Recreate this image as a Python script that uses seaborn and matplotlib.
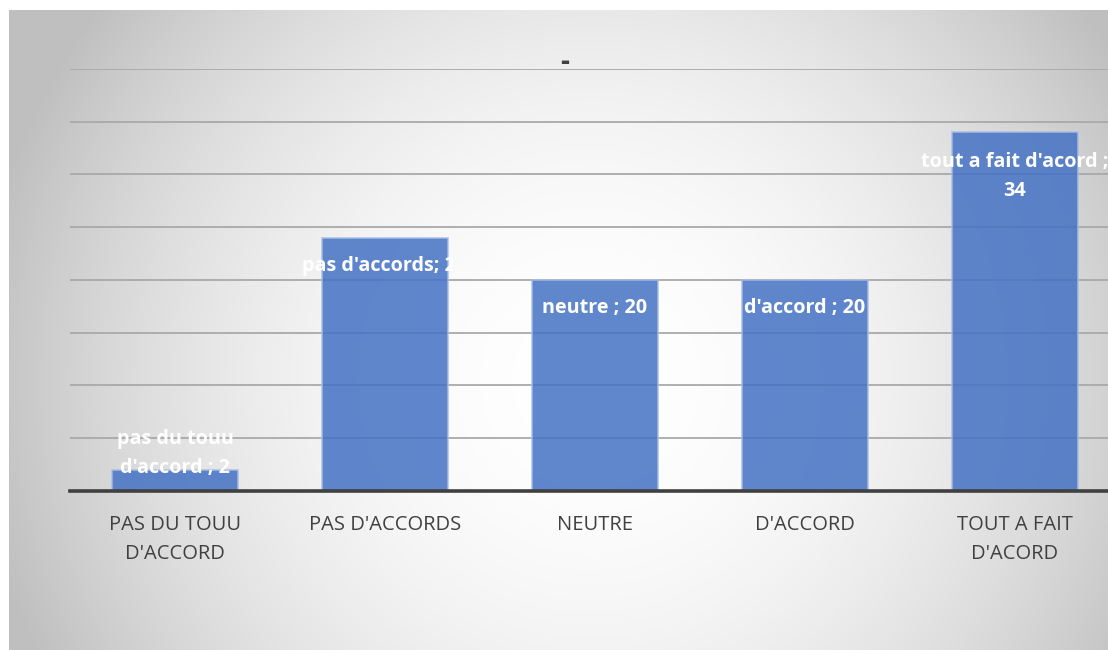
import numpy as np
import pandas as pd
import matplotlib
matplotlib.use("Agg")
import matplotlib.pyplot as plt
from matplotlib.patches import Rectangle
import seaborn as sns

# Survey answers and counts
categories = ["PAS DU TOUU\nD'ACCORD", "PAS D'ACCORDS", "NEUTRE", "D'ACCORD", "TOUT A FAIT\nD'ACORD"]
values = [2, 24, 20, 20, 34]
label_names = ["pas du touu\nd'accord ; ", "pas d'accords; ", "neutre ; ", "d'accord ; ", "tout a fait d'acord ;\n"]
title = "-"

sns.set_theme(style="white")
plt.rcParams["font.family"] = ["Open Sans", "DejaVu Sans"]

W, H = 1108, 650
fig = plt.figure(figsize=(W / 100, H / 100), dpi=100)
fig.patch.set_facecolor("white")

# radial grey-to-white background of the chart area
bg = fig.add_axes([9 / W, 0, (W - 9) / W, 640 / H], zorder=0)
gx0, gx1, gy0, gy1 = 9, 1108, 10, 650
xs = np.arange(gx0, gx1)
ys = np.arange(gy0, gy1)
XX, YY = np.meshgrid(xs, ys)
d = np.hypot(XX - 590, YY - 380)
v = 1 - 0.22 * (d / 580) ** 2
v = np.clip(v, 0.75, 1.0)
img = np.dstack([v, v, v])
bg.imshow(img, aspect="auto", extent=[0, 1, 0, 1], interpolation="bilinear")
bg.axis("off")

ax = fig.add_axes([70 / W, 159 / H, 1050 / W, 422 / H], zorder=1)
ax.patch.set_alpha(0)

df = pd.DataFrame({"cat": categories, "val": values})
sns.barplot(data=df, x="cat", y="val", color="#4472C4", width=0.6,
            saturation=1, alpha=0.85, edgecolor="#a7bde6", linewidth=1.2, ax=ax)

ax.set_ylim(0, 40)
ax.set_xlim(-0.5, len(categories) - 0.5)
ax.set_yticks(np.arange(0, 41, 5))
ax.set_yticklabels([])
ax.yaxis.grid(True, color="#a9a9a9", linewidth=1.3)
ax.set_axisbelow(True)
for s in ["left", "right", "top"]:
    ax.spines[s].set_visible(False)
ax.spines["bottom"].set_color("#404040")
ax.spines["bottom"].set_linewidth(2.6)
ax.spines["bottom"].set_zorder(5)
ax.set_xlabel("")
ax.set_ylabel("")
ax.tick_params(axis="x", length=0, pad=17, labelsize=14.5, labelcolor="#404040")
ax.tick_params(axis="y", length=0)
for t in ax.get_xticklabels():
    t.set_linespacing(1.65)

# value labels, placed just inside the top of each bar
offsets_px = [16.5, -28, -28.5, -28.5, -44]
for i, (name, val) in enumerate(zip(label_names, values)):
    txt = ax.annotate(f"{name}{val}", xy=(i, val), xytext=(0, offsets_px[i]),
                      textcoords="offset pixels", ha="center", va="center",
                      fontsize=14.2, fontweight="bold", color="white",
                      linespacing=1.6, zorder=6, annotation_clip=False)
    if i == 1:
        # the label box is narrower than its text
        clip = Rectangle((-0.5, -5), 1.5 + 0.324, 50, transform=ax.transData)
        txt.set_clip_path(clip)

fig.text(565 / W, 1 - 63 / H, title, ha="center", va="center",
         fontsize=20, fontweight="bold", color="#404040")

fig.savefig("out.png", dpi=100)
